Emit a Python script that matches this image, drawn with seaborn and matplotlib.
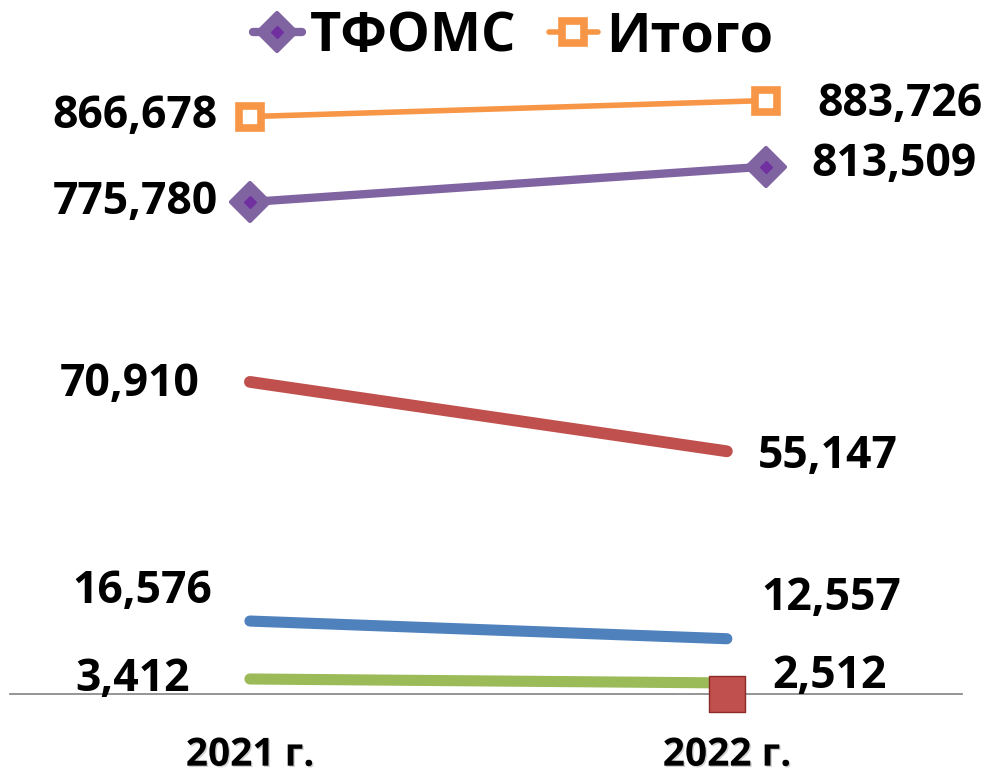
import numpy as np
import pandas as pd
import matplotlib
matplotlib.use("Agg")
import matplotlib.pyplot as plt
import matplotlib.patheffects as pe
import seaborn as sns
from matplotlib.lines import Line2D
from matplotlib.markers import MarkerStyle
from matplotlib.legend_handler import HandlerTuple

# ---------------- data ----------------
years = ['2021 г.', '2022 г.']
tfoms = [775.780, 813.509]        # ТФОМС (secondary axis)
itogo = [866.678, 883.726]        # Итого (secondary axis)
red_vals = [70.910, 55.147]
blue_vals = [16.576, 12.557]
green_vals = [3.412, 2.512]
red_point = [np.nan, 0.0]         # stray red marker on the 2022 category

# ---------------- colours ----------------
c_purple = '#8064A2'
c_purple_dark = '#7030A0'
c_orange = '#F79646'
c_red = '#C0504D'
c_blue = '#4F81BD'
c_green = '#9BBB59'

sns.set_style('white')
plt.rcParams['font.family'] = ['Open Sans', 'DejaVu Sans']
plt.rcParams['font.weight'] = 'bold'
plt.rcParams['text.color'] = 'black'
plt.rcParams['xtick.color'] = 'black'

def fmt(v):
    return f"{v:.3f}".replace('.', ',')

fig = plt.figure(figsize=(9.96, 7.74), dpi=100)
rect = [10 / 996, (774 - 694) / 774, 952 / 996, (694 - 80) / 774]
ax = fig.add_axes(rect)
ax2 = fig.add_axes(rect)
ax2.patch.set_visible(False)

idx = np.arange(len(years))

# primary series
for vals, col, lw in [(red_vals, c_red, 8.5), (blue_vals, c_blue, 8), (green_vals, c_green, 8)]:
    sns.lineplot(x=idx, y=vals, ax=ax, color=col, lw=lw, legend=False,
                 solid_capstyle='round')
sns.scatterplot(x=idx, y=red_point, ax=ax, marker='s', s=26 ** 2, color=c_red,
                edgecolor='#8C2A28', linewidth=1, legend=False, zorder=5, clip_on=False)

# secondary series
diamond = MarkerStyle('D', joinstyle='round')
sns.lineplot(x=idx, y=itogo, ax=ax2, color=c_orange, lw=4, legend=False,
             marker='s', markersize=16, markerfacecolor='white',
             markeredgecolor=c_orange, markeredgewidth=5.5)
sns.lineplot(x=idx, y=tfoms, ax=ax2, color=c_purple, lw=6, legend=False,
             marker=diamond, markersize=19, markerfacecolor=c_purple,
             markeredgecolor=c_purple, markeredgewidth=3)
ax2.plot(idx, tfoms, ls='none', marker='D', ms=6.5, color=c_purple_dark, zorder=5)

ax.set_xlim(-0.503, 1.493)
ax.set_ylim(0, 139.5)
ax2.set_xlim(-0.465, 1.380)
ax2.set_ylim(252.4, 905.6)

# data labels: (axis, values, [(dx, dy, ha) per point]) offsets in points
label_cfg = [
    (ax2, itogo, [(-23, 0, 'right'), (37, -3, 'left')]),
    (ax2, tfoms, [(-23, 0, 'right'), (33, 1.5, 'left')]),
    (ax, red_vals, [(-36, -2, 'right'), (22, -3.6, 'left')]),
    (ax, blue_vals, [(-27, 21, 'right'), (25, 29, 'left')]),
    (ax, green_vals, [(-43, -0.7, 'right'), (33, 4.3, 'left')]),
]
for a, vals, offs in label_cfg:
    for i, (v, (dx, dy, ha)) in enumerate(zip(vals, offs)):
        a.annotate(fmt(v), (idx[i], v), xytext=(dx, dy), textcoords='offset points',
                   ha=ha, va='center', fontsize=32, fontweight='bold', color='black')

# axes styling
for s in ['top', 'right', 'left']:
    ax.spines[s].set_visible(False)
ax.spines['bottom'].set_color('#8c8c8c')
ax.spines['bottom'].set_linewidth(1.3)
ax.set_yticks([])
ax.set_xticks(idx)
ax.set_xticklabels(years, fontsize=28, fontweight='bold')
ax.tick_params(axis='x', length=0, pad=30)
for t in ax.get_xticklabels():
    t.set_path_effects([pe.SimplePatchShadow(offset=(1, -1), shadow_rgbFace='gray', alpha=0.35),
                        pe.Normal()])
ax.set_xlabel('')
ax.set_ylabel('')
ax2.axis('off')

# legend
h_tfoms = (Line2D([], [], color=c_purple, lw=6, marker=diamond, ms=19,
                  mfc=c_purple, mec=c_purple, mew=3),
           Line2D([], [], ls='none', marker='D', ms=6.5, color=c_purple_dark))
h_itogo = Line2D([], [], color=c_orange, lw=4, marker='s', ms=16, mfc='white',
                 mec=c_orange, mew=5.5)
fig.legend([h_tfoms, h_itogo], ['ТФОМС', 'Итого'], loc='upper center',
           bbox_to_anchor=(0.515, 1.015), ncol=2, frameon=False,
           prop={'size': 39, 'weight': 'bold'}, handlelength=0.9,
           handletextpad=0.15, columnspacing=0.6, borderaxespad=0,
           handler_map={tuple: HandlerTuple(ndivide=1)})

fig.savefig('out.png', dpi=100)
